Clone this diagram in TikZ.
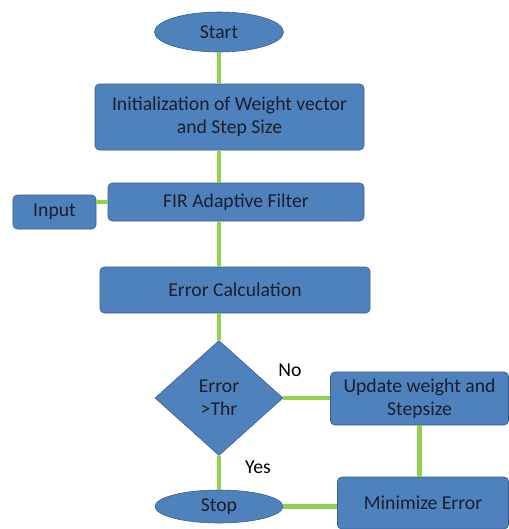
\documentclass[tikz,border=0pt]{standalone}
\usepackage{fontspec}
\setmainfont{Carlito}
\usepackage{tikz}
\usetikzlibrary{positioning,shapes.geometric,calc}
\definecolor{boxblue}{HTML}{4F81BD}
\definecolor{edge}{HTML}{385D8A}
\definecolor{link}{HTML}{92D050}
\definecolor{ink}{HTML}{1A1F2E}

\begin{document}
\begin{tikzpicture}[
  x=0.025cm, y=-0.025cm,
  font=\fontsize{14}{16.5}\selectfont,
  box/.style={draw=edge, fill=boxblue, rounded corners=3pt, align=center, text=ink, inner sep=2pt},
  term/.style={draw=edge, fill=boxblue, ellipse, text=ink, inner sep=0pt},
  test/.style={draw=edge, fill=boxblue, diamond, align=center, text=ink, inner sep=0pt},
  link/.style={draw=link, line width=3.4pt}
]
\useasboundingbox (0,0) rectangle (509,529);

\node[term, minimum width=129*0.025cm, minimum height=40*0.025cm] (start) at (219,32) {Start};
\node[box, minimum width=269*0.025cm, minimum height=66*0.025cm] (init) at (229.5,117) {Initialization of Weight vector\\and Step Size};
\node[box, minimum width=256*0.025cm, minimum height=38*0.025cm] (fir) at (236,202) {FIR Adaptive Filter};
\node[box, minimum width=83*0.025cm, minimum height=34*0.025cm] (input) at (54.5,212) {Input};
\node[box, minimum width=270*0.025cm, minimum height=46*0.025cm] (calc) at (235,290) {Error Calculation};
\node[test, minimum width=128*0.025cm, minimum height=115*0.025cm] (thr) at (219,398) {Error\\>Thr};
\node[box, minimum width=178*0.025cm, minimum height=53*0.025cm] (update) at (419.5,398.5) {Update weight and\\Stepsize};
\node[box, minimum width=171*0.025cm, minimum height=52*0.025cm] (minerr) at (423,503) {Minimize Error};
\node[term, minimum width=128*0.025cm, minimum height=33*0.025cm] (stop) at (219,506.5) {Stop};

\node (no) at (290,370) {No};
\node (yes) at (258,467) {Yes};

% main chain
\draw[link] (start) -- (start |- init.north);
\draw[link] (init.south -| start) -- (fir.north -| start);
\draw[link] (fir.west) -- (fir.west -| input.east);
\draw[link] (fir.south -| start) -- (calc.north -| start);
\draw[link] (calc.south -| thr) -- (thr.north);

% decision loop
\draw[link] (thr.east) -- (thr.east -| update.west);
\draw[link] (update.south) -- (update.south |- minerr.north);
\draw[link] (minerr.west |- stop) -- (stop.east);
\draw[link] (thr.south) -- (stop.north);
\end{tikzpicture}
\end{document}
